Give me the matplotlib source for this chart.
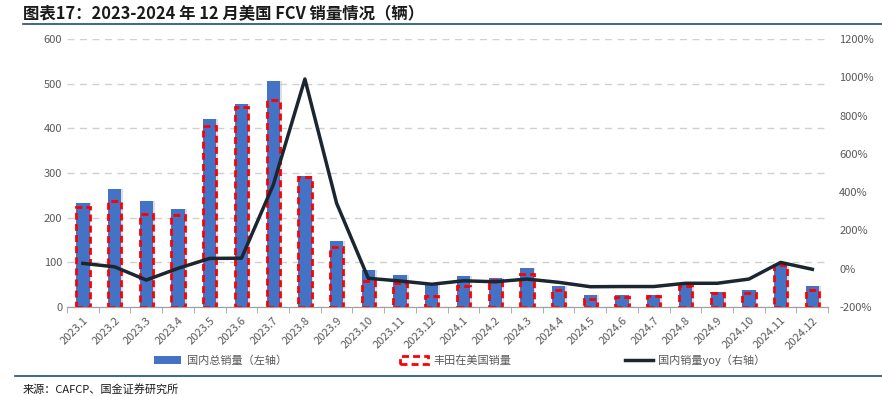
import matplotlib.pyplot as plt
import numpy as np
from matplotlib.lines import Line2D
from matplotlib.patches import Patch

plt.rcParams['font.family'] = ['Noto Sans CJK SC', 'DejaVu Sans']

months = ['2023.1', '2023.2', '2023.3', '2023.4', '2023.5', '2023.6', '2023.7', '2023.8',
          '2023.9', '2023.10', '2023.11', '2023.12', '2024.1', '2024.2', '2024.3', '2024.4',
          '2024.5', '2024.6', '2024.7', '2024.8', '2024.9', '2024.10', '2024.11', '2024.12']
total_sales = [232, 264, 237, 219, 421, 454, 507, 293, 148, 83, 72, 51,
               69, 66, 88, 48, 27, 28, 27, 50, 33, 37, 96, 47]
toyota_sales = [224, 238, 208, 206, 406, 447, 463, 291, 134, 59, 53, 25,
                47, 60, 73, 38, 19, 23, 25, 47, 32, 31, 95, 37]
yoy = [28, 10, -59, 2, 54, 55, 437, 991, 342, -50, -64, -81,
       -63, -68, -54, -71, -94, -93, -93, -76, -76, -54, 33, -3]

fig = plt.figure(figsize=(8.82, 3.96), dpi=100)
ax = fig.add_axes([0.076, 0.2247, 0.863, 0.6768])
ax2 = ax.twinx()

x = np.arange(len(months))
gray = '#595959'

# 柱子：阴影 + 蓝色总量 + 红色虚线框
ax.bar(x + 0.06, total_sales, width=0.42, color='#c8c8c8', alpha=0.6, zorder=2)
ax.bar(x, total_sales, width=0.42, color='#4472c4', zorder=3)
ax.bar(x, toyota_sales, width=0.42, facecolor='none', edgecolor='#ff0000',
       linestyle=(0, (2.5, 1.5)), linewidth=2, zorder=4)

ax2.plot(x, yoy, color='#1c2630', linewidth=2.5, zorder=5)

ax.set_xlim(-0.5, len(months) - 0.5)
ax.set_ylim(0, 600)
ax.set_yticks(range(0, 601, 100))
ax2.set_ylim(-200, 1200)
ax2.set_yticks(range(-200, 1201, 200))
ax2.set_yticklabels([f'{v}%' for v in range(-200, 1201, 200)])

ax.yaxis.grid(True, linestyle=(0, (5, 4)), color='#d0d0d0', linewidth=1)
ax.set_axisbelow(True)

# x 轴刻度在类别之间
ax.set_xticks(x)
ax.set_xticklabels(months, rotation=45, ha='right', rotation_mode='anchor',
                   fontsize=8, color=gray)
ax.set_xticks(np.arange(-0.5, len(months)), minor=True)
ax.tick_params(axis='x', which='major', length=0, pad=6)
ax.tick_params(axis='x', which='minor', length=4, color='#a0a0a0')
ax.tick_params(axis='y', length=0, labelsize=8, labelcolor=gray)
ax2.tick_params(axis='y', length=0, labelsize=8, labelcolor=gray, pad=8)

for a in (ax, ax2):
    for s in ['top', 'right', 'left']:
        a.spines[s].set_visible(False)
    a.spines['bottom'].set_color('#a0a0a0')

# 标题和分隔线
fig.text(0.026, 0.967, '图表17：2023-2024 年 12 月美国 FCV 销量情况（辆）',
         fontsize=11.8, fontweight='bold', fontstyle='italic', color='#1a1a1a', va='center')
fig.add_artist(Line2D([0.026, 1.0], [0.94, 0.94], color='#1f4e79', linewidth=1.2))
fig.add_artist(Line2D([0.017, 1.0], [0.05, 0.05], color='#1f4e79', linewidth=1.2))
fig.text(0.026, 0.018, '来源：CAFCP、国金证券研究所', fontsize=8, color='#1a1a1a', va='center')

# 图例
handles = [Patch(facecolor='#4472c4'),
           Patch(facecolor='none', edgecolor='#ff0000', linestyle=(0, (2.5, 1.5)), linewidth=2),
           Line2D([0], [0], color='#1c2630', linewidth=2.5)]
labels = ['国内总销量（左轴）', '丰田在美国销量', '国内销量yoy（右轴）']
fig.legend(handles, labels, loc='center', bbox_to_anchor=(0.521, 0.09), ncol=3,
           frameon=False, fontsize=8, labelcolor=gray, columnspacing=10.2,
           handlelength=2.5, handletextpad=0.5)

fig.savefig('out.png', dpi=100)
